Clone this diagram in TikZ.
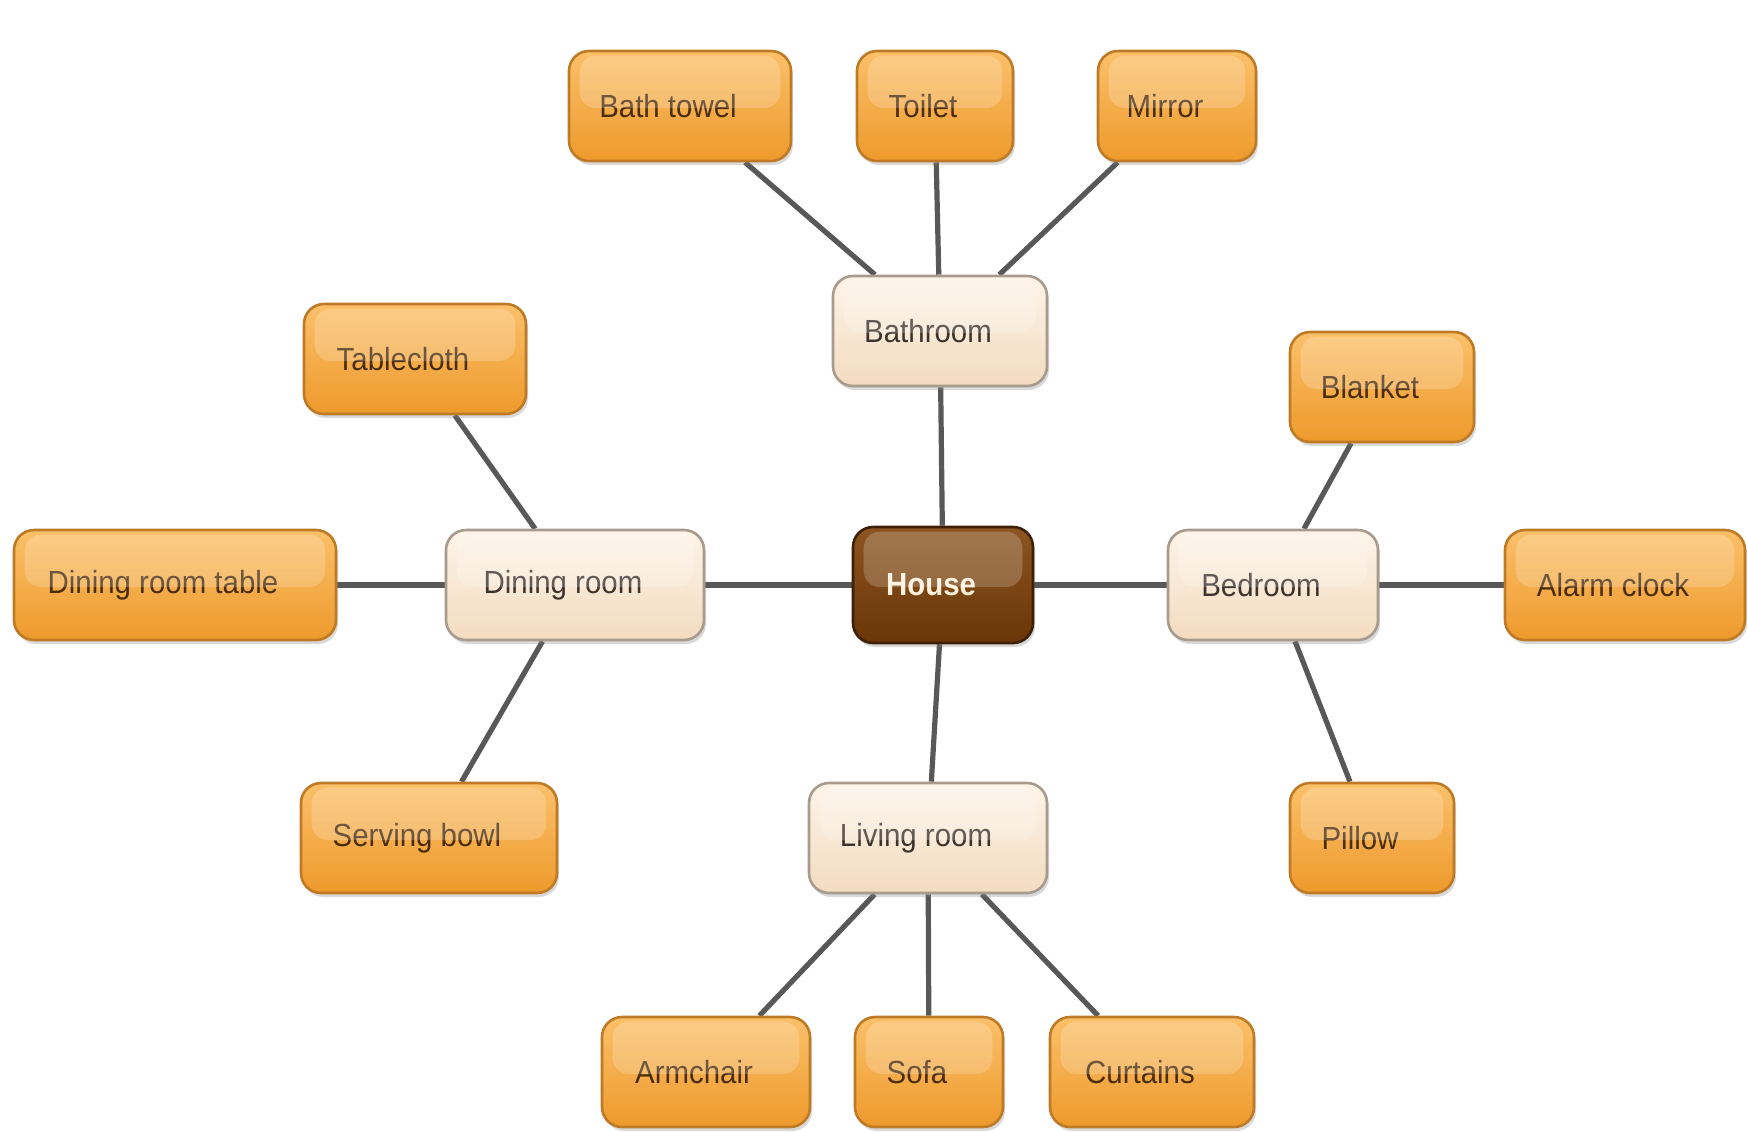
\documentclass[tikz,border=0pt]{standalone}
\usepackage{fontspec}
\setmainfont{Liberation Sans}[FakeStretch=0.92]
\usetikzlibrary{shadows,backgrounds}
\definecolor{orTop}{HTML}{FBC06A}
\definecolor{orBot}{HTML}{EE9A2C}
\definecolor{orLine}{HTML}{BF7A26}
\definecolor{orText}{HTML}{4A2C0E}
\definecolor{ltTop}{HTML}{FDF4E8}
\definecolor{ltBot}{HTML}{F3DBC0}
\definecolor{ltLine}{HTML}{A89A8C}
\definecolor{ltText}{HTML}{3C342C}
\definecolor{hsTop}{HTML}{8C5522}
\definecolor{hsBot}{HTML}{6A3606}
\definecolor{hsLine}{HTML}{3E2006}
\definecolor{hsText}{HTML}{FFF2DC}
\definecolor{conn}{HTML}{585858}
\begin{document}
\begin{tikzpicture}[x=0.5pt,y=-0.5pt,
  box/.style={rounded corners=10pt, minimum height=55pt, line width=1.3pt,
    font=\fontsize{16}{19}\selectfont, execute at end node={\hspace{12pt}},
    drop shadow={opacity=0.3,shadow xshift=1pt,shadow yshift=-2pt}, inner sep=0pt},
  leaf/.style={box, draw=orLine, top color=orTop, bottom color=orBot, text=orText},
  room/.style={box, draw=ltLine, top color=ltTop, bottom color=ltBot, text=ltText},
  hub/.style={box, draw=hsLine, top color=hsTop, bottom color=hsBot, text=hsText,
    minimum height=58pt, font=\fontsize{16}{19}\selectfont\bfseries},
  gloss/.style={fill=white, opacity=0.2, rounded corners=8pt},
  link/.style={draw=conn, line width=2.6pt}]
\useasboundingbox (0,0) rectangle (1748,1131);
% hub
\node[hub, minimum width=90pt] (house) at (943,585) {House};
% rooms
\node[room, minimum width=107pt] (bath) at (940,331) {Bathroom};
\node[room, minimum width=129pt] (dine) at (575,585) {Dining room};
\node[room, minimum width=105pt] (bed) at (1273,585) {Bedroom};
\node[room, minimum width=119pt] (live) at (928,838) {Living room};
% leaves
\node[leaf, minimum width=111pt] (towel) at (680,106) {Bath towel};
\node[leaf, minimum width=78pt] (toilet) at (935,106) {Toilet};
\node[leaf, minimum width=79pt] (mirror) at (1177,106) {Mirror};
\node[leaf, minimum width=111pt] (cloth) at (415,359) {Tablecloth};
\node[leaf, minimum width=161pt] (table) at (175,585) {Dining room table};
\node[leaf, minimum width=128pt] (bowl) at (429,838) {Serving bowl};
\node[leaf, minimum width=92pt] (blanket) at (1382,387) {Blanket};
\node[leaf, minimum width=120pt] (clock) at (1625,585) {Alarm clock};
\node[leaf, minimum width=82pt] (pillow) at (1372,838) {Pillow};
\node[leaf, minimum width=104pt] (arm) at (706,1072) {Armchair};
\node[leaf, minimum width=74pt] (sofa) at (929,1072) {Sofa};
\node[leaf, minimum width=102pt] (curt) at (1152,1072) {Curtains};
% gloss highlights
\foreach \n in {house,bath,dine,bed,live,towel,toilet,mirror,cloth,table,bowl,blanket,clock,pillow,arm,sofa,curt}
  \fill[gloss] ([xshift=6pt,yshift=-3pt]\n.north west) rectangle ([xshift=-6pt,yshift=-1pt]\n.east);
% connectors
\begin{scope}[on background layer]
\draw[link] (house) -- (bath);
\draw[link] (house) -- (dine);
\draw[link] (house) -- (bed);
\draw[link] (house) -- (live);
\draw[link] (bath) -- (towel);
\draw[link] (bath) -- (toilet);
\draw[link] (bath) -- (mirror);
\draw[link] (dine) -- (cloth);
\draw[link] (dine) -- (table);
\draw[link] (dine) -- (bowl);
\draw[link] (bed) -- (blanket);
\draw[link] (bed) -- (clock);
\draw[link] (bed) -- (pillow);
\draw[link] (live) -- (arm);
\draw[link] (live) -- (sofa);
\draw[link] (live) -- (curt);
\end{scope}
\end{tikzpicture}
\end{document}
